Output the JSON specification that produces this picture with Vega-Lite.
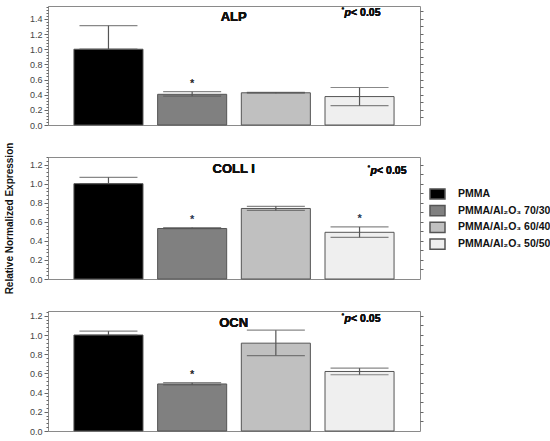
{
  "$schema": "https://vega.github.io/schema/vega-lite/v6.json",
  "padding": {"left": 3, "top": 5, "right": 0, "bottom": 0},
  "background": "white",
  "datasets": {
    "d": [
      {"panel": "ALP", "group": "PMMA", "value": 1.0, "lo": 1.0, "hi": 1.31, "sig": ""},
      {"panel": "ALP", "group": "PMMA/Al₂O₃ 70/30", "value": 0.405, "lo": 0.38, "hi": 0.44, "sig": "*"},
      {"panel": "ALP", "group": "PMMA/Al₂O₃ 60/40", "value": 0.425, "lo": 0.42, "hi": 0.43, "sig": ""},
      {"panel": "ALP", "group": "PMMA/Al₂O₃ 50/50", "value": 0.375, "lo": 0.255, "hi": 0.495, "sig": ""},
      {"panel": "COLL I", "group": "PMMA", "value": 1.0, "lo": 1.0, "hi": 1.067, "sig": ""},
      {"panel": "COLL I", "group": "PMMA/Al₂O₃ 70/30", "value": 0.53, "lo": 0.527, "hi": 0.54, "sig": "*"},
      {"panel": "COLL I", "group": "PMMA/Al₂O₃ 60/40", "value": 0.74, "lo": 0.72, "hi": 0.763, "sig": ""},
      {"panel": "COLL I", "group": "PMMA/Al₂O₃ 50/50", "value": 0.49, "lo": 0.437, "hi": 0.546, "sig": "*"},
      {"panel": "OCN", "group": "PMMA", "value": 1.0, "lo": 1.0, "hi": 1.04, "sig": ""},
      {"panel": "OCN", "group": "PMMA/Al₂O₃ 70/30", "value": 0.49, "lo": 0.48, "hi": 0.503, "sig": "*"},
      {"panel": "OCN", "group": "PMMA/Al₂O₃ 60/40", "value": 0.915, "lo": 0.786, "hi": 1.05, "sig": ""},
      {"panel": "OCN", "group": "PMMA/Al₂O₃ 50/50", "value": 0.62, "lo": 0.586, "hi": 0.655, "sig": ""}
    ]
  },
  "spacing": 32,
  "bounds": "flush",
  "resolve": {"scale": {"x": "independent", "y": "independent", "color": "shared"}},
  "vconcat": [
    {
      "width": 372, "height": 119,
      "data": {"name": "d"},
      "transform": [{"filter": "datum.panel === 'ALP'"}],
      "encoding": {"x": {"field": "group", "type": "nominal", "sort": null, "axis": null, "scale": {"domain": ["PMMA", "PMMA/Al₂O₃ 70/30", "PMMA/Al₂O₃ 60/40", "PMMA/Al₂O₃ 50/50"], "paddingInner": 0.175, "paddingOuter": 0.31}}},
      "resolve": {"axis": {"y": "independent"}},
      "layer": [
        {"mark": {"type": "bar", "stroke": "#555", "strokeWidth": 1},
         "encoding": {
           "y": {"field": "value", "type": "quantitative", "scale": {"domain": [0, 1.57], "nice": false}, "axis": {"title": null, "values": [0, 0.2, 0.4, 0.6, 0.8, 1.0, 1.2, 1.4], "format": ".1f", "tickSize": 4, "labelPadding": 2, "grid": false}},
           "color": {"field": "group", "type": "nominal", "sort": null, "scale": {"domain": ["PMMA", "PMMA/Al₂O₃ 70/30", "PMMA/Al₂O₃ 60/40", "PMMA/Al₂O₃ 50/50"], "range": ["#000000", "#808080", "#c0c0c0", "#efefef"]},
             "legend": {"encode": {"symbols": {"update": {"stroke": {"signal": "datum.value === 'PMMA' ? '#000000' : (datum.value === 'PMMA/Al₂O₃ 50/50' ? '#2d5f9e' : '#5d7593')"}, "strokeWidth": {"value": 1.5}}}}}}
         }},
        {"mark": {"type": "rule", "color": "#555", "strokeWidth": 1.2},
         "encoding": {
           "y": {"field": "lo", "type": "quantitative", "scale": {"domain": [0, 1.57], "nice": false}, "axis": {"title": null, "orient": "left", "labels": false, "domain": false, "values": [0.04,0.08,0.12,0.16,0.24,0.28,0.32,0.36,0.44,0.48,0.52,0.56,0.64,0.68,0.72,0.76,0.84,0.88,0.92,0.96,1.04,1.08,1.12,1.16,1.24,1.28,1.32,1.36,1.44,1.48,1.52,1.56], "tickSize": 2, "grid": false}},
           "y2": {"field": "hi"}
         }},
        {"mark": {"type": "tick", "color": "#555", "size": 58, "thickness": 1.2, "orient": "horizontal"},
         "encoding": {"y": {"field": "hi", "type": "quantitative", "scale": {"domain": [0, 1.57], "nice": false}, "axis": {"title": null, "orient": "right", "labels": false, "domain": false, "values": [0.1,0.2,0.3,0.4,0.5,0.6,0.7,0.8,0.9,1.0,1.1,1.2,1.3,1.4,1.5], "tickSize": 3, "grid": false}}}},
        {"mark": {"type": "tick", "color": "#555", "size": 58, "thickness": 1.2, "orient": "horizontal"},
         "encoding": {"y": {"field": "lo", "type": "quantitative", "scale": {"domain": [0, 1.57], "nice": false}, "axis": null}}},
        {"transform": [{"filter": "datum.sig === '*'"}],
         "mark": {"type": "text", "dy": -5, "baseline": "alphabetic", "fontSize": 11, "fontWeight": "bold", "font": "Liberation Sans", "color": "#222"},
         "encoding": {"text": {"field": "sig"}, "y": {"field": "hi", "type": "quantitative", "scale": {"domain": [0, 1.57], "nice": false}, "axis": null}}},
        {"mark": {"type": "text", "text": "ALP", "align": "center", "dx": 7, "dy": 15, "baseline": "alphabetic", "fontSize": 13, "fontWeight": "bold", "font": "Liberation Sans", "color": "#111"},
         "encoding": {"x": {"datum": "PMMA/Al₂O₃ 70/30", "bandPosition": 1}, "y": {"datum": 1.57, "type": "quantitative", "scale": {"domain": [0, 1.57], "nice": false}, "axis": null}}},
        {"mark": {"type": "text", "text": "*", "align": "left", "dx": -18, "dy": -4, "baseline": "alphabetic", "fontSize": 7, "font": "Liberation Sans", "color": "#111"},
         "encoding": {"x": {"datum": "PMMA/Al₂O₃ 50/50"}, "y": {"datum": 1.44, "type": "quantitative", "scale": {"domain": [0, 1.57], "nice": false}, "axis": null}}},
        {"mark": {"type": "text", "text": "p", "align": "left", "dx": -15, "baseline": "alphabetic", "fontSize": 10.5, "fontWeight": "bold", "fontStyle": "italic", "font": "Liberation Sans", "color": "#111"},
         "encoding": {"x": {"datum": "PMMA/Al₂O₃ 50/50"}, "y": {"datum": 1.44, "type": "quantitative", "scale": {"domain": [0, 1.57], "nice": false}, "axis": null}}},
        {"mark": {"type": "text", "text": "< 0.05", "align": "left", "dx": -8.5, "baseline": "alphabetic", "fontSize": 10.5, "fontWeight": "bold", "font": "Liberation Sans", "color": "#111"},
         "encoding": {"x": {"datum": "PMMA/Al₂O₃ 50/50"}, "y": {"datum": 1.44, "type": "quantitative", "scale": {"domain": [0, 1.57], "nice": false}, "axis": null}}}
      ]
    },
    {
      "width": 372, "height": 122,
      "data": {"name": "d"},
      "transform": [{"filter": "datum.panel === 'COLL I'"}],
      "encoding": {"x": {"field": "group", "type": "nominal", "sort": null, "axis": null, "scale": {"domain": ["PMMA", "PMMA/Al₂O₃ 70/30", "PMMA/Al₂O₃ 60/40", "PMMA/Al₂O₃ 50/50"], "paddingInner": 0.175, "paddingOuter": 0.31}}},
      "resolve": {"axis": {"y": "independent"}},
      "layer": [
        {"mark": {"type": "bar", "stroke": "#555", "strokeWidth": 1},
         "encoding": {
           "y": {"field": "value", "type": "quantitative", "scale": {"domain": [0, 1.28], "nice": false}, "axis": {"title": "Relative Normalized Expression", "titleFont": "Liberation Sans", "titleFontSize": 10, "titleFontWeight": "bold", "titleColor": "#111", "titlePadding": 15, "values": [0, 0.2, 0.4, 0.6, 0.8, 1.0, 1.2], "format": ".1f", "tickSize": 4, "labelPadding": 2, "grid": false}},
           "color": {"field": "group", "type": "nominal", "sort": null, "scale": {"domain": ["PMMA", "PMMA/Al₂O₃ 70/30", "PMMA/Al₂O₃ 60/40", "PMMA/Al₂O₃ 50/50"], "range": ["#000000", "#808080", "#c0c0c0", "#efefef"]},
             "legend": {"encode": {"symbols": {"update": {"stroke": {"signal": "datum.value === 'PMMA' ? '#000000' : (datum.value === 'PMMA/Al₂O₃ 50/50' ? '#2d5f9e' : '#5d7593')"}, "strokeWidth": {"value": 1.5}}}}}}
         }},
        {"mark": {"type": "rule", "color": "#555", "strokeWidth": 1.2},
         "encoding": {
           "y": {"field": "lo", "type": "quantitative", "scale": {"domain": [0, 1.28], "nice": false}, "axis": {"title": null, "orient": "left", "labels": false, "domain": false, "values": [0.04,0.08,0.12,0.16,0.24,0.28,0.32,0.36,0.44,0.48,0.52,0.56,0.64,0.68,0.72,0.76,0.84,0.88,0.92,0.96,1.04,1.08,1.12,1.16,1.24,1.28], "tickSize": 2, "grid": false}},
           "y2": {"field": "hi"}
         }},
        {"mark": {"type": "tick", "color": "#555", "size": 58, "thickness": 1.2, "orient": "horizontal"},
         "encoding": {"y": {"field": "hi", "type": "quantitative", "scale": {"domain": [0, 1.28], "nice": false}, "axis": {"title": null, "orient": "right", "labels": false, "domain": false, "values": [0.1,0.2,0.3,0.4,0.5,0.6,0.7,0.8,0.9,1.0,1.1,1.2], "tickSize": 3, "grid": false}}}},
        {"mark": {"type": "tick", "color": "#555", "size": 58, "thickness": 1.2, "orient": "horizontal"},
         "encoding": {"y": {"field": "lo", "type": "quantitative", "scale": {"domain": [0, 1.28], "nice": false}, "axis": null}}},
        {"transform": [{"filter": "datum.sig === '*'"}],
         "mark": {"type": "text", "dy": -5, "baseline": "alphabetic", "fontSize": 11, "fontWeight": "bold", "font": "Liberation Sans", "color": "#1f3550"},
         "encoding": {"text": {"field": "sig"}, "y": {"field": "hi", "type": "quantitative", "scale": {"domain": [0, 1.28], "nice": false}, "axis": null}}},
        {"mark": {"type": "text", "text": "COLL I", "align": "center", "dx": 7, "dy": 16, "baseline": "alphabetic", "fontSize": 13, "fontWeight": "bold", "font": "Liberation Sans", "color": "#111"},
         "encoding": {"x": {"datum": "PMMA/Al₂O₃ 70/30", "bandPosition": 1}, "y": {"datum": 1.28, "type": "quantitative", "scale": {"domain": [0, 1.28], "nice": false}, "axis": null}}},
        {"mark": {"type": "text", "text": "*", "align": "left", "dx": 8, "dy": -4, "baseline": "alphabetic", "fontSize": 7, "font": "Liberation Sans", "color": "#111"},
         "encoding": {"x": {"datum": "PMMA/Al₂O₃ 50/50"}, "y": {"datum": 1.1, "type": "quantitative", "scale": {"domain": [0, 1.28], "nice": false}, "axis": null}}},
        {"mark": {"type": "text", "text": "p", "align": "left", "dx": 11, "baseline": "alphabetic", "fontSize": 10.5, "fontWeight": "bold", "fontStyle": "italic", "font": "Liberation Sans", "color": "#111"},
         "encoding": {"x": {"datum": "PMMA/Al₂O₃ 50/50"}, "y": {"datum": 1.1, "type": "quantitative", "scale": {"domain": [0, 1.28], "nice": false}, "axis": null}}},
        {"mark": {"type": "text", "text": "< 0.05", "align": "left", "dx": 17.5, "baseline": "alphabetic", "fontSize": 10.5, "fontWeight": "bold", "font": "Liberation Sans", "color": "#111"},
         "encoding": {"x": {"datum": "PMMA/Al₂O₃ 50/50"}, "y": {"datum": 1.1, "type": "quantitative", "scale": {"domain": [0, 1.28], "nice": false}, "axis": null}}}
      ]
    },
    {
      "width": 372, "height": 120,
      "data": {"name": "d"},
      "transform": [{"filter": "datum.panel === 'OCN'"}],
      "encoding": {"x": {"field": "group", "type": "nominal", "sort": null, "axis": null, "scale": {"domain": ["PMMA", "PMMA/Al₂O₃ 70/30", "PMMA/Al₂O₃ 60/40", "PMMA/Al₂O₃ 50/50"], "paddingInner": 0.175, "paddingOuter": 0.31}}},
      "resolve": {"axis": {"y": "independent"}},
      "layer": [
        {"mark": {"type": "bar", "stroke": "#555", "strokeWidth": 1},
         "encoding": {
           "y": {"field": "value", "type": "quantitative", "scale": {"domain": [0, 1.25], "nice": false}, "axis": {"title": null, "values": [0, 0.2, 0.4, 0.6, 0.8, 1.0, 1.2], "format": ".1f", "tickSize": 4, "labelPadding": 2, "grid": false}},
           "color": {"field": "group", "type": "nominal", "sort": null, "scale": {"domain": ["PMMA", "PMMA/Al₂O₃ 70/30", "PMMA/Al₂O₃ 60/40", "PMMA/Al₂O₃ 50/50"], "range": ["#000000", "#808080", "#c0c0c0", "#efefef"]},
             "legend": {"encode": {"symbols": {"update": {"stroke": {"signal": "datum.value === 'PMMA' ? '#000000' : (datum.value === 'PMMA/Al₂O₃ 50/50' ? '#2d5f9e' : '#5d7593')"}, "strokeWidth": {"value": 1.5}}}}}}
         }},
        {"mark": {"type": "rule", "color": "#555", "strokeWidth": 1.2},
         "encoding": {
           "y": {"field": "lo", "type": "quantitative", "scale": {"domain": [0, 1.25], "nice": false}, "axis": {"title": null, "orient": "left", "labels": false, "domain": false, "values": [0.04,0.08,0.12,0.16,0.24,0.28,0.32,0.36,0.44,0.48,0.52,0.56,0.64,0.68,0.72,0.76,0.84,0.88,0.92,0.96,1.04,1.08,1.12,1.16,1.24], "tickSize": 2, "grid": false}},
           "y2": {"field": "hi"}
         }},
        {"mark": {"type": "tick", "color": "#555", "size": 58, "thickness": 1.2, "orient": "horizontal"},
         "encoding": {"y": {"field": "hi", "type": "quantitative", "scale": {"domain": [0, 1.25], "nice": false}, "axis": {"title": null, "orient": "right", "labels": false, "domain": false, "values": [0.1,0.2,0.3,0.4,0.5,0.6,0.7,0.8,0.9,1.0,1.1,1.2], "tickSize": 3, "grid": false}}}},
        {"mark": {"type": "tick", "color": "#555", "size": 58, "thickness": 1.2, "orient": "horizontal"},
         "encoding": {"y": {"field": "lo", "type": "quantitative", "scale": {"domain": [0, 1.25], "nice": false}, "axis": null}}},
        {"transform": [{"filter": "datum.sig === '*'"}],
         "mark": {"type": "text", "dy": -5, "baseline": "alphabetic", "fontSize": 11, "fontWeight": "bold", "font": "Liberation Sans", "color": "#222"},
         "encoding": {"text": {"field": "sig"}, "y": {"field": "hi", "type": "quantitative", "scale": {"domain": [0, 1.25], "nice": false}, "axis": null}}},
        {"mark": {"type": "text", "text": "OCN", "align": "center", "dx": 7, "dy": 16, "baseline": "alphabetic", "fontSize": 13, "fontWeight": "bold", "font": "Liberation Sans", "color": "#111"},
         "encoding": {"x": {"datum": "PMMA/Al₂O₃ 70/30", "bandPosition": 1}, "y": {"datum": 1.25, "type": "quantitative", "scale": {"domain": [0, 1.25], "nice": false}, "axis": null}}},
        {"mark": {"type": "text", "text": "*", "align": "left", "dx": -18, "dy": -4, "baseline": "alphabetic", "fontSize": 7, "font": "Liberation Sans", "color": "#111"},
         "encoding": {"x": {"datum": "PMMA/Al₂O₃ 50/50"}, "y": {"datum": 1.135, "type": "quantitative", "scale": {"domain": [0, 1.25], "nice": false}, "axis": null}}},
        {"mark": {"type": "text", "text": "p", "align": "left", "dx": -15, "baseline": "alphabetic", "fontSize": 10.5, "fontWeight": "bold", "fontStyle": "italic", "font": "Liberation Sans", "color": "#111"},
         "encoding": {"x": {"datum": "PMMA/Al₂O₃ 50/50"}, "y": {"datum": 1.135, "type": "quantitative", "scale": {"domain": [0, 1.25], "nice": false}, "axis": null}}},
        {"mark": {"type": "text", "text": "< 0.05", "align": "left", "dx": -8.5, "baseline": "alphabetic", "fontSize": 10.5, "fontWeight": "bold", "font": "Liberation Sans", "color": "#111"},
         "encoding": {"x": {"datum": "PMMA/Al₂O₃ 50/50"}, "y": {"datum": 1.135, "type": "quantitative", "scale": {"domain": [0, 1.25], "nice": false}, "axis": null}}}
      ]
    }
  ],
  "config": {
    "view": {"stroke": "#8a8a8a", "strokeWidth": 1},
    "axis": {"labelFont": "Liberation Sans", "labelFontSize": 9, "labelColor": "#444", "domainColor": "#8a8a8a", "tickColor": "#666", "tickWidth": 1},
    "legend": {
      "orient": "none", "legendX": 382.5, "legendY": 181,
      "title": null,
      "symbolType": "M-1.25,-0.85H1.25V0.85H-1.25Z",
      "symbolSize": 144,
      "symbolStrokeWidth": 1.5,
      "labelFont": "Liberation Sans", "labelFontSize": 10.5, "labelFontWeight": "bold", "labelColor": "#111",
      "labelOffset": 13.5, "labelLimit": 0, "rowPadding": -1.3
    }
  }
}
